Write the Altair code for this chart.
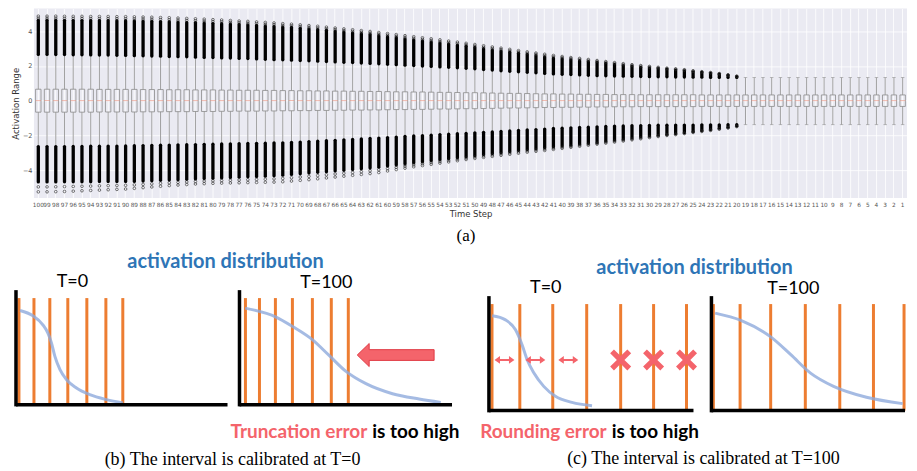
import altair as alt
import pandas as pd

# ---------------- (a) box plot: one value per time step, 100 -> 1 ----------------
steps = list(range(100, 0, -1))
step_labels = [str(s) for s in steps]

box_q3 = [0.66, 0.66, 0.66, 0.66, 0.66, 0.66, 0.66, 0.65, 0.65, 0.65,
          0.65, 0.65, 0.64, 0.64, 0.64, 0.63, 0.63, 0.63, 0.62, 0.62,
          0.62, 0.61, 0.61, 0.60, 0.60, 0.60, 0.59, 0.59, 0.58, 0.58,
          0.57, 0.57, 0.56, 0.56, 0.55, 0.55, 0.54, 0.54, 0.53, 0.53,
          0.52, 0.51, 0.51, 0.50, 0.50, 0.49, 0.48, 0.48, 0.47, 0.46,
          0.46, 0.45, 0.44, 0.43, 0.42, 0.42, 0.41, 0.40, 0.39, 0.39,
          0.38, 0.38, 0.37, 0.37, 0.36, 0.36, 0.35, 0.35, 0.35, 0.34,
          0.34, 0.34, 0.34, 0.34, 0.34, 0.34, 0.33, 0.33, 0.33, 0.33,
          0.33, 0.33, 0.33, 0.33, 0.33, 0.33, 0.33, 0.33, 0.33, 0.33,
          0.33, 0.33, 0.33, 0.33, 0.33, 0.33, 0.33, 0.33, 0.33, 0.33]
box_q1 = [-0.66, -0.66, -0.66, -0.66, -0.66, -0.66, -0.66, -0.65, -0.65, -0.65,
          -0.65, -0.65, -0.64, -0.64, -0.64, -0.63, -0.63, -0.63, -0.62, -0.62,
          -0.62, -0.61, -0.61, -0.60, -0.60, -0.60, -0.59, -0.59, -0.58, -0.58,
          -0.57, -0.57, -0.56, -0.56, -0.55, -0.55, -0.54, -0.54, -0.53, -0.53,
          -0.52, -0.51, -0.51, -0.50, -0.50, -0.49, -0.48, -0.48, -0.47, -0.46,
          -0.46, -0.45, -0.44, -0.43, -0.42, -0.42, -0.41, -0.40, -0.39, -0.39,
          -0.38, -0.38, -0.37, -0.37, -0.36, -0.36, -0.35, -0.35, -0.35, -0.34,
          -0.34, -0.34, -0.34, -0.34, -0.34, -0.34, -0.33, -0.33, -0.33, -0.33,
          -0.33, -0.33, -0.33, -0.33, -0.33, -0.33, -0.33, -0.33, -0.33, -0.33,
          -0.33, -0.33, -0.33, -0.33, -0.33, -0.33, -0.33, -0.33, -0.33, -0.33]
box_median = [0.0] * 100
whisker_hi = [2.66, 2.66, 2.65, 2.65, 2.64, 2.64, 2.63, 2.62, 2.62, 2.61,
              2.60, 2.59, 2.58, 2.57, 2.56, 2.54, 2.53, 2.52, 2.50, 2.49,
              2.48, 2.46, 2.45, 2.43, 2.42, 2.40, 2.38, 2.36, 2.35, 2.33,
              2.31, 2.29, 2.27, 2.25, 2.23, 2.21, 2.19, 2.16, 2.14, 2.12,
              2.09, 2.07, 2.04, 2.02, 1.99, 1.97, 1.94, 1.92, 1.89, 1.86,
              1.83, 1.79, 1.76, 1.72, 1.69, 1.66, 1.63, 1.60, 1.57, 1.54,
              1.52, 1.50, 1.48, 1.46, 1.44, 1.43, 1.42, 1.41, 1.40, 1.39,
              1.38, 1.37, 1.37, 1.36, 1.36, 1.35, 1.35, 1.34, 1.34, 1.34,
              1.34, 1.33, 1.33, 1.33, 1.33, 1.33, 1.33, 1.33, 1.33, 1.33,
              1.33, 1.33, 1.33, 1.33, 1.33, 1.33, 1.33, 1.33, 1.33, 1.33]
whisker_lo = [-2.64, -2.64, -2.64, -2.64, -2.63, -2.63, -2.62, -2.62, -2.61, -2.61,
              -2.60, -2.59, -2.58, -2.57, -2.56, -2.55, -2.54, -2.53, -2.52, -2.51,
              -2.50, -2.49, -2.48, -2.47, -2.46, -2.45, -2.44, -2.43, -2.42, -2.40,
              -2.38, -2.35, -2.33, -2.30, -2.28, -2.25, -2.23, -2.20, -2.17, -2.15,
              -2.12, -2.09, -2.06, -2.03, -2.01, -1.98, -1.95, -1.93, -1.90, -1.88,
              -1.85, -1.82, -1.80, -1.77, -1.74, -1.71, -1.68, -1.66, -1.63, -1.60,
              -1.58, -1.56, -1.54, -1.52, -1.50, -1.48, -1.46, -1.45, -1.44, -1.43,
              -1.42, -1.41, -1.41, -1.40, -1.40, -1.40, -1.39, -1.39, -1.39, -1.38,
              -1.38, -1.38, -1.38, -1.38, -1.38, -1.38, -1.38, -1.38, -1.38, -1.38,
              -1.38, -1.38, -1.38, -1.38, -1.38, -1.38, -1.38, -1.38, -1.38, -1.38]
# dense outlier band ends and outermost outlier circles (steps 100..20; none after)
outlier_top = [4.63, 4.63, 4.63, 4.62, 4.62, 4.62, 4.61, 4.61, 4.61, 4.60,
               4.60, 4.59, 4.58, 4.57, 4.55, 4.54, 4.52, 4.50, 4.49, 4.47,
               4.45, 4.43, 4.41, 4.38, 4.36, 4.33, 4.30, 4.27, 4.24, 4.21,
               4.17, 4.13, 4.09, 4.05, 4.00, 3.95, 3.90, 3.85, 3.80, 3.74,
               3.68, 3.62, 3.56, 3.50, 3.44, 3.38, 3.32, 3.26, 3.20, 3.13,
               3.06, 2.99, 2.92, 2.85, 2.79, 2.73, 2.66, 2.59, 2.52, 2.45,
               2.40, 2.35, 2.30, 2.25, 2.20, 2.14, 2.08, 2.02, 1.97, 1.92,
               1.88, 1.84, 1.80, 1.76, 1.72, 1.66, 1.62, 1.57, 1.52, 1.45,
               1.38] + [None] * 19
outlier_top_max = [4.86, 4.86, 4.86, 4.85, 4.85, 4.85, 4.84, 4.84, 4.84, 4.83,
                   4.83, 4.82, 4.81, 4.80, 4.78, 4.77, 4.75, 4.73, 4.71, 4.69,
                   4.66, 4.64, 4.61, 4.58, 4.56, 4.53, 4.50, 4.47, 4.43, 4.40,
                   4.36, 4.32, 4.28, 4.23, 4.18, 4.13, 4.08, 4.03, 3.98, 3.92,
                   3.86, 3.80, 3.74, 3.68, 3.62, 3.56, 3.50, 3.43, 3.37, 3.30,
                   3.23, 3.16, 3.09, 3.02, 2.95, 2.88, 2.81, 2.74, 2.67, 2.60,
                   2.54, 2.48, 2.43, 2.37, 2.31, 2.25, 2.19, 2.13, 2.07, 2.02,
                   1.97, 1.92, 1.87, 1.83, 1.78, 1.72, 1.67, 1.62, 1.56, 1.49,
                   1.41] + [None] * 19
outlier_bottom = [-4.67, -4.67, -4.67, -4.66, -4.66, -4.66, -4.66, -4.65, -4.65, -4.65,
                  -4.65, -4.64, -4.62, -4.60, -4.58, -4.56, -4.54, -4.52, -4.50, -4.48,
                  -4.46, -4.44, -4.42, -4.40, -4.38, -4.36, -4.34, -4.31, -4.28, -4.24,
                  -4.20, -4.16, -4.12, -4.08, -4.04, -4.00, -3.96, -3.92, -3.87, -3.82,
                  -3.76, -3.70, -3.64, -3.58, -3.52, -3.46, -3.40, -3.34, -3.28, -3.22,
                  -3.16, -3.10, -3.04, -2.98, -2.92, -2.86, -2.81, -2.76, -2.71, -2.66,
                  -2.61, -2.56, -2.50, -2.45, -2.40, -2.33, -2.27, -2.21, -2.15, -2.09,
                  -2.03, -1.98, -1.93, -1.88, -1.83, -1.77, -1.71, -1.65, -1.58, -1.52,
                  -1.44] + [None] * 19
outlier_bottom_min = [-5.24, -5.24, -5.23, -5.22, -5.20, -5.18, -5.16, -5.14, -5.12, -5.10,
                      -5.08, -5.04, -5.00, -4.96, -4.92, -4.88, -4.85, -4.82, -4.79, -4.77,
                      -4.75, -4.74, -4.73, -4.72, -4.71, -4.70, -4.69, -4.68, -4.66, -4.62,
                      -4.58, -4.54, -4.49, -4.44, -4.39, -4.34, -4.29, -4.24, -4.19, -4.13,
                      -4.04, -3.96, -3.88, -3.80, -3.73, -3.66, -3.59, -3.52, -3.45, -3.38,
                      -3.32, -3.26, -3.20, -3.14, -3.08, -3.02, -2.96, -2.91, -2.86, -2.80,
                      -2.74, -2.68, -2.62, -2.56, -2.50, -2.44, -2.38, -2.32, -2.25, -2.19,
                      -2.12, -2.06, -2.00, -1.95, -1.89, -1.83, -1.77, -1.71, -1.64, -1.57,
                      -1.49] + [None] * 19

# ---------------- (b)/(c) schematic panels (each panel normalised to 0..1) ----------------
b1_levels = [0.014, 0.085, 0.160, 0.245, 0.335, 0.425, 0.505]
b1_curve_x = [0.019, 0.080, 0.127, 0.151, 0.168, 0.184, 0.208, 0.239, 0.286, 0.349, 0.428, 0.506]
b1_curve_y = [0.835, 0.788, 0.708, 0.634, 0.546, 0.428, 0.310, 0.221, 0.147, 0.088, 0.044, 0.015]

b2_levels = [0.028, 0.094, 0.169, 0.249, 0.343, 0.432, 0.512]
b2_curve_x = [0.027, 0.172, 0.250, 0.344, 0.423, 0.501, 0.595, 0.720, 0.845, 0.947]
b2_curve_y = [0.856, 0.777, 0.693, 0.575, 0.434, 0.295, 0.186, 0.097, 0.050, 0.020]
b2_arrow = {"x": [0.735], "y": [0.44]}

c1_levels = [0.015, 0.151, 0.312, 0.478, 0.644, 0.805, 0.966]
c1_curve_x = [0.016, 0.081, 0.130, 0.162, 0.187, 0.220, 0.268, 0.325, 0.406, 0.504]
c1_curve_y = [0.841, 0.805, 0.717, 0.584, 0.451, 0.333, 0.215, 0.127, 0.073, 0.044]
c1_gap_arrows = {"x": [0.076, 0.227, 0.388], "y": [0.45, 0.45, 0.45]}
c1_crosses = {"x": [0.644, 0.805, 0.966], "y": [0.45, 0.45, 0.45]}

c2_levels = [0.010, 0.148, 0.306, 0.485, 0.663, 0.837, 0.995]
c2_curve_x = [0.019, 0.155, 0.308, 0.410, 0.512, 0.631, 0.801, 0.988]
c2_curve_y = [0.865, 0.799, 0.652, 0.496, 0.333, 0.215, 0.118, 0.062]

level_top = 0.945

texts = {
    "a": "(a)",
    "dist": "activation distribution",
    "t0": "T=0",
    "t100": "T=100",
    "trunc": "Truncation error",
    "round": "Rounding error",
    "high": "is too high",
    "cap_b": "(b) The interval is calibrated at T=0",
    "cap_c": "(c) The interval is calibrated at T=100",
}

# ---------------- styles ----------------
GRAY = "#8a8a8a"
ORANGE = "#ED7D31"
CURVE = "#8FAADC"
BLUE_TXT = "#2E75B6"
RED = "#F4646B"
SANS = "Lato"
SERIF = "Liberation Serif"

# ---------------- top box plot ----------------
df_box = pd.DataFrame({
    "step": step_labels,
    "q1": box_q1, "q3": box_q3, "med": box_median,
    "whi": whisker_hi, "wlo": whisker_lo,
    "out_hi": outlier_top, "out_max": outlier_top_max,
    "out_lo": outlier_bottom, "out_min": outlier_bottom_min,
})

xaxis = alt.Axis(title="Time Step", labelAngle=0, labelFontSize=5.8, labelColor="#555",
                 labelFont="DejaVu Sans", labelOverlap=False, ticks=False, domain=False,
                 grid=True, gridColor="white", gridWidth=0.8, labelPadding=3, bandPosition=0.5,
                 titleFont="DejaVu Sans", titleFontSize=8.5, titleFontWeight="normal",
                 titleColor="#333", titlePadding=3)
yaxis = alt.Axis(title="Activation Range", values=[-4, -2, 0, 2, 4], labelFontSize=6.5,
                 labelColor="#555", labelFont="DejaVu Sans", ticks=False, domain=False,
                 grid=True, gridColor="white", gridWidth=0.8, labelPadding=2,
                 titleFont="DejaVu Sans", titleFontSize=8.5, titleFontWeight="normal",
                 titleColor="#333", titlePadding=2)
ysc = alt.Scale(domain=[-5.6, 5.3], nice=False, zero=False)
X = alt.X("step:N", sort=step_labels, scale=alt.Scale(paddingInner=0, paddingOuter=0), axis=xaxis)


def Y(f):
    return alt.Y(f"{f}:Q", scale=ysc, axis=yaxis)


base = alt.Chart(df_box).encode(x=X)
whisk_up = base.mark_rule(color=GRAY, strokeWidth=0.8).encode(y=Y("q3"), y2="whi:Q")
whisk_dn = base.mark_rule(color=GRAY, strokeWidth=0.8).encode(y=Y("wlo"), y2="q1:Q")
cap_up = base.mark_tick(color=GRAY, size=3.5, thickness=0.8).encode(y=Y("whi"))
cap_dn = base.mark_tick(color=GRAY, size=3.5, thickness=0.8).encode(y=Y("wlo"))
box = base.mark_bar(width=alt.RelativeBandSize(band=0.62), fill="#EAEAF2", fillOpacity=0,
                    stroke=GRAY, strokeWidth=0.8).encode(y=Y("q1"), y2="q3:Q")
med = base.mark_tick(color="#E8836F", size=5.4, thickness=0.8).encode(y=Y("med"))
outs = base.transform_filter("isValid(datum.out_hi)").transform_calculate(
    mid_hi="(datum.out_hi + datum.out_max) / 2", mid_lo="(datum.out_lo + datum.out_min) / 2")
dense_up = outs.mark_rule(color="black", strokeWidth=3.3, strokeCap="round").encode(
    y=Y("whi"), y2="out_hi:Q")
dense_dn = outs.mark_rule(color="black", strokeWidth=3.3, strokeCap="round").encode(
    y=Y("out_lo"), y2="wlo:Q")
circ_style = dict(shape="circle", filled=False, size=7, color="#222", strokeWidth=0.6, opacity=1)
circ1 = outs.mark_point(**circ_style).encode(y=Y("out_max"))
circ2 = outs.mark_point(**circ_style).encode(y=Y("out_min"))
circ3 = outs.mark_point(**circ_style).encode(y=Y("mid_lo"))
circ4 = outs.mark_point(**circ_style).encode(y=Y("mid_hi"))

top = alt.layer(whisk_up, whisk_dn, cap_up, cap_dn, box, med, dense_up, dense_dn,
                circ1, circ2, circ3, circ4).properties(
    width=875, height=190, view=alt.ViewBackground(fill="#EAEAF2", strokeWidth=0))

# ---------------- bottom schematic ----------------
ARROW = "M -1 0 L -0.69 -0.3 L -0.69 -0.14 L 1 -0.14 L 1 0.14 L -0.69 0.14 L -0.69 0.3 Z"
DARROW = ("M -1 0 L -0.45 -0.4 L -0.45 -0.1 L 0.45 -0.1 L 0.45 -0.4 L 1 0 L 0.45 0.4 "
          "L 0.45 0.1 L -0.45 0.1 L -0.45 0.4 Z")
a = 0.22
PLUS = (f"M {-a} -1 L {a} -1 L {a} {-a} L 1 {-a} L 1 {a} L {a} {a} L {a} 1 L {-a} 1 "
        f"L {-a} {a} L -1 {a} L -1 {-a} L {-a} {-a} Z")


def panel(xr, yr, levels, cx, cy, extras=()):
    sx = alt.Scale(domain=[0, 1], range=xr, nice=False, zero=False)
    sy = alt.Scale(domain=[0, 1], range=yr, nice=False, zero=False)
    ex = lambda f: alt.X(f, scale=sx, axis=None)
    ey = lambda f: alt.Y(f, scale=sy, axis=None)
    lv = alt.Chart(pd.DataFrame({"x": levels, "y0": [0.0] * len(levels),
                                 "y1": [level_top] * len(levels)})).mark_rule(
        color=ORANGE, strokeWidth=3).encode(x=ex("x:Q"), y=ey("y0:Q"), y2="y1:Q")
    cv = alt.Chart(pd.DataFrame({"x": cx, "y": cy, "i": list(range(len(cx)))})).mark_line(
        color=CURVE, strokeWidth=3, opacity=0.8, interpolate="monotone").encode(
        x=ex("x:Q"), y=ey("y:Q"), order="i:O")
    ax_v = alt.Chart(pd.DataFrame({"x": [0.0], "y": [0.0], "y2": [1.0]})).mark_rule(
        color="black", strokeWidth=3.5, strokeCap="square").encode(
        x=ex("x:Q"), y=ey("y:Q"), y2="y2:Q")
    ax_h = alt.Chart(pd.DataFrame({"x": [0.0], "x2": [1.0], "y": [0.0]})).mark_rule(
        color="black", strokeWidth=3.5, strokeCap="butt").encode(
        x=ex("x:Q"), x2="x2:Q", y=ey("y:Q"))
    out = [lv, cv, ax_v, ax_h]
    for kind, d in extras:
        ch = alt.Chart(pd.DataFrame(d))
        if kind == "arrow":
            m = ch.mark_point(shape=ARROW, size=5929, filled=True, fill=RED, stroke="#E03A44",
                              strokeWidth=1, opacity=1)
        elif kind == "darrow":
            m = ch.mark_point(shape=DARROW, size=400, filled=True, fill=RED, strokeWidth=0,
                              opacity=1)
        else:
            m = ch.mark_point(shape=PLUS, angle=45, size=595, filled=True, fill=RED,
                              strokeWidth=0, opacity=1)
        out.append(m.encode(x=ex("x:Q"), y=ey("y:Q")))
    return out


def label(txt, x, y, size, color="black", font=SANS, weight="normal", align="center"):
    return alt.Chart(pd.DataFrame({"t": [txt]})).mark_text(
        font=font, fontSize=size, fontWeight=weight, color=color, align=align,
        baseline="middle").encode(text="t:N", x=alt.value(x), y=alt.value(y))


layers = []
layers += panel([-18, 194], [189, 76], b1_levels, b1_curve_x, b1_curve_y)
layers += panel([206, 419], [189, 76], b2_levels, b2_curve_x, b2_curve_y,
                extras=[("arrow", b2_arrow)])
layers += panel([456, 661], [195, 82], c1_levels, c1_curve_x, c1_curve_y,
                extras=[("darrow", c1_gap_arrows), ("cross", c1_crosses)])
layers += panel([679, 873], [195, 82], c2_levels, c2_curve_x, c2_curve_y)

layers += [
    label(texts["a"], 433, 20, 17, font=SERIF),
    label(texts["dist"], 192, 46, 20, color=BLUE_TXT, weight="bold"),
    label(texts["t0"], 38.5, 66, 18),
    label(texts["t100"], 293, 67, 18),
    label(texts["dist"], 662, 52, 20, color=BLUE_TXT, weight="bold"),
    label(texts["t0"], 513, 72, 18),
    label(texts["t100"], 761, 73, 18),
    label(texts["trunc"], 334, 216, 19, color=RED, weight="bold", align="right"),
    label(texts["high"], 339, 216, 19, weight="bold", align="left"),
    label(texts["round"], 574, 216, 19, color=RED, weight="bold", align="right"),
    label(texts["high"], 579, 216, 19, weight="bold", align="left"),
    label(texts["cap_b"], 199, 245, 18, font=SERIF),
    label(texts["cap_c"], 671, 244, 18, font=SERIF),
]

bottom = alt.layer(*layers).resolve_scale(x="independent", y="independent").properties(
    width=875, height=240)

chart = alt.vconcat(top, bottom, spacing=18, bounds="flush").properties(
    padding={"left": 3, "top": 0, "right": 0, "bottom": 0}
).configure_view(strokeWidth=0)

chart.save("out.html", embed_options={"renderer": "svg", "actions": False})
